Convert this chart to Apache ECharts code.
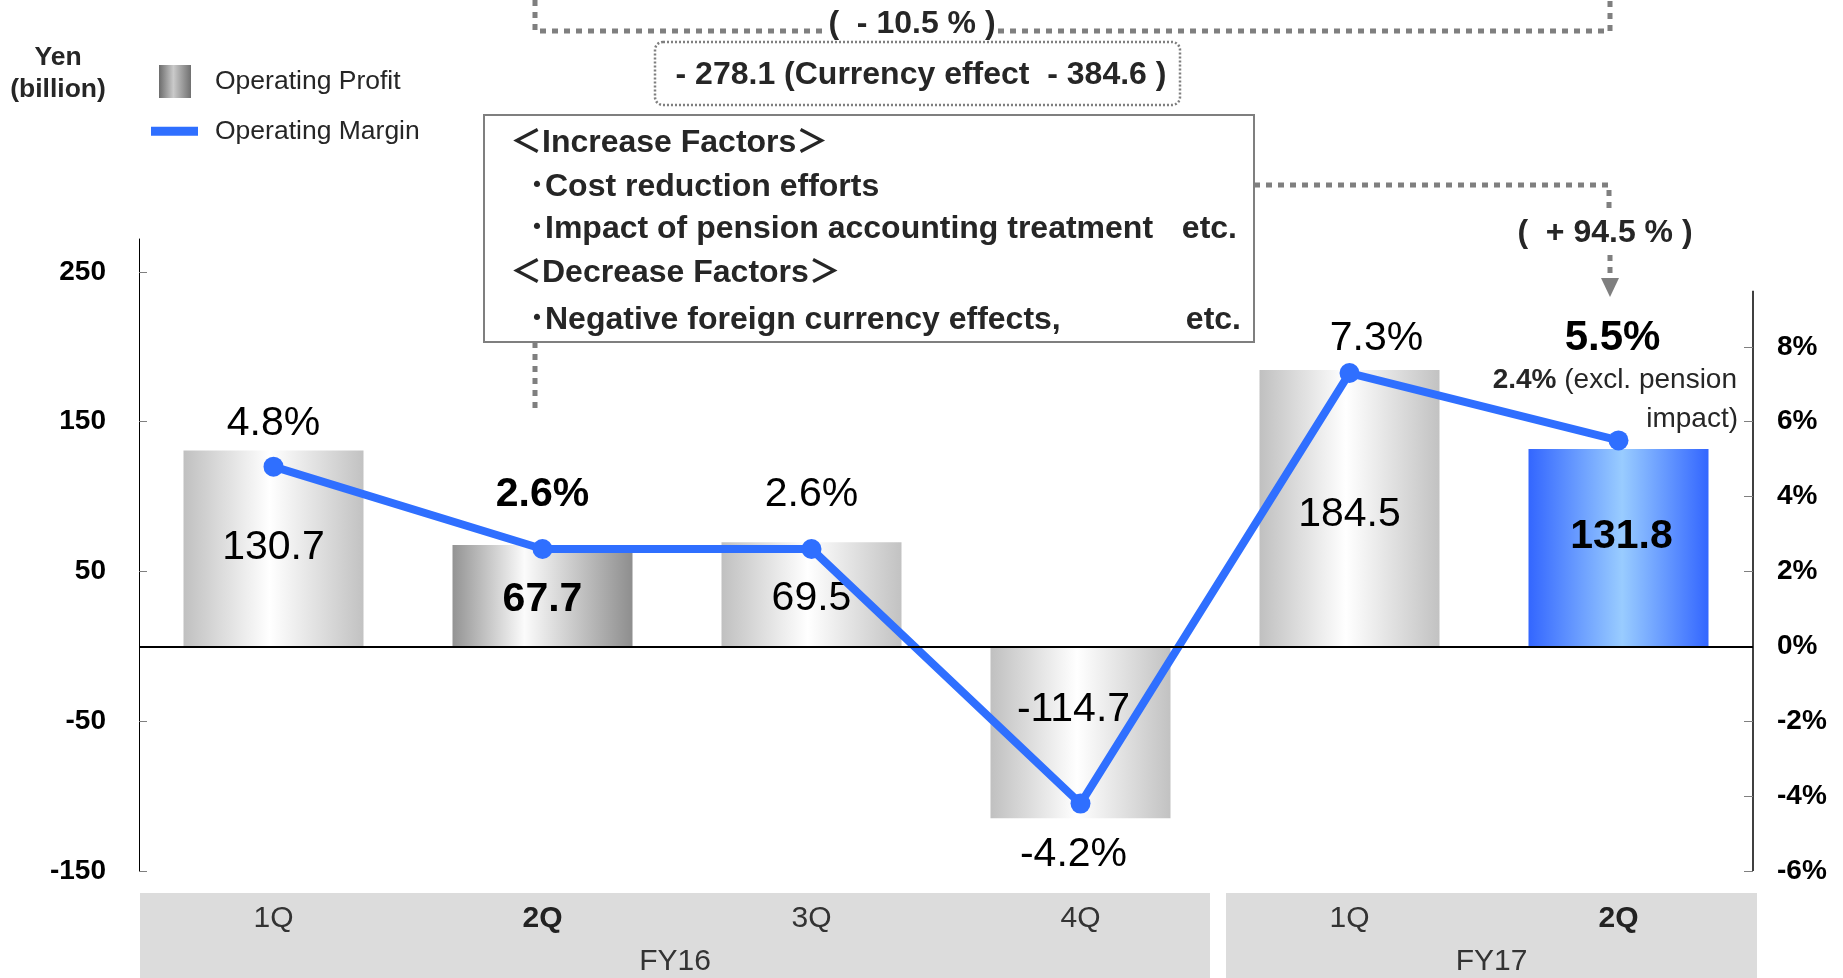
<!DOCTYPE html>
<html>
<head>
<meta charset="utf-8">
<script src="https://cdn.jsdelivr.net/npm/echarts@6/dist/echarts.min.js"></script>
<style>
html, body { margin: 0; padding: 0; background: #fff; }
#chart { width: 1843px; height: 978px; }
</style>
</head>
<body>
<div id="chart"></div>
<script>
// data
var quarters = ['FY16 1Q', 'FY16 2Q', 'FY16 3Q', 'FY16 4Q', 'FY17 1Q', 'FY17 2Q'];
var fiscalYears = ['FY16', 'FY17'];
var operatingProfit = [130.7, 67.7, 69.5, -114.7, 184.5, 131.8];
var operatingMargin = [4.8, 2.6, 2.6, -4.2, 7.3, 5.5];
var profitTicks = [-150, -50, 50, 150, 250];
var marginTicks = [-6, -4, -2, 0, 2, 4, 6, 8];
var boldQuarters = ['FY16 2Q', 'FY17 2Q'];

var FONT = 'Arial, "Liberation Sans", "Noto Sans CJK JP", sans-serif';
var BLUE = '#2f6fff';
var DOT = '#7f7f7f';

function grad(stops) {
	return {
		type: 'linear', x: 0, y: 0, x2: 1, y2: 0,
		colorStops: stops.map(function (s) { return { offset: s[0], color: s[1] }; })
	};
}

var barColors = {
	gray: grad([[0, '#c0c0c0'], [0.48, '#ffffff'], [1, '#c2c2c2']]),
	dark: grad([[0, '#939393'], [0.4, '#fbfbfb'], [1, '#8e8e8e']]),
	blue: grad([[0, '#3366ff'], [0.52, '#99ccff'], [1, '#3366ff']])
};
var legendIcon = grad([[0, '#6c6c6c'], [0.45, '#cacaca'], [1, '#707070']]);

// style per bar (not data)
var barLook = ['gray', 'dark', 'gray', 'gray', 'gray', 'blue'];
var barLabelOffset = [[0, -1], [0, 4], [0, 4], [-7, -23], [0, 6], [3, -11]];
var lineLabelLook = [
	{ position: 'top', distance: 12 },
	{ position: 'top', distance: 24 },
	{ position: 'top', distance: 24 },
	{ position: 'bottom', distance: 21, offset: [-7, 0] },
	{ position: 'top', distance: 4, offset: [27, 0] },
	{ position: 'top', distance: 71, offset: [-6, 0], fontSize: 42 }
];

function isBold(i) { return boldQuarters.indexOf(quarters[i]) >= 0; }

var barData = operatingProfit.map(function (v, i) {
	return {
		value: v,
		itemStyle: { color: barColors[barLook[i]] },
		label: {
			show: true,
			position: 'inside',
			offset: barLabelOffset[i],
			fontWeight: isBold(i) ? 'bold' : 'normal'
		}
	};
});

var lineData = operatingMargin.map(function (v, i) {
	var l = lineLabelLook[i];
	return {
		value: v,
		label: {
			show: true,
			position: l.position,
			distance: l.distance,
			offset: l.offset || [0, 0],
			fontSize: l.fontSize || 41,
			fontWeight: isBold(i) ? 'bold' : 'normal'
		}
	};
});

var chart = echarts.init(document.getElementById('chart'));

var option = {
	animation: false,
	backgroundColor: '#fff',
	textStyle: { fontFamily: FONT },
	legend: [
		{
			data: [{ name: 'Operating Profit', icon: 'rect', itemStyle: { color: legendIcon } }],
			left: 159, top: 65, padding: 0,
			itemWidth: 32, itemHeight: 33,
			selectedMode: false,
			textStyle: { fontSize: 26.5, color: '#262626', fontFamily: FONT, padding: [0, 0, 0, 19] }
		},
		{
			data: [{ name: 'Operating Margin', icon: 'rect' }],
			left: 151, top: 118, padding: 0,
			itemWidth: 47, itemHeight: 9,
			selectedMode: false,
			textStyle: { fontSize: 26.5, color: '#262626', fontFamily: FONT, padding: [0, 0, 0, 12] }
		}
	],
	grid: { left: 139, right: 90, top: 239, bottom: 107, containLabel: false, outerBoundsMode: 'none' },
	xAxis: {
		type: 'category',
		data: quarters,
		z: 10,
		axisLine: { show: false },
		axisTick: { show: false },
		axisLabel: {
			margin: 33,
			formatter: function (v, i) {
				var q = v.split(' ')[1];
				return boldQuarters.indexOf(v) >= 0 ? '{b|' + q + '}' : '{n|' + q + '}';
			},
			rich: {
				n: { fontSize: 30, color: '#333', fontFamily: FONT },
				b: { fontSize: 30, color: '#222', fontWeight: 'bold', fontFamily: FONT }
			}
		}
	},
	yAxis: [
		{
			type: 'value',
			min: -150, max: 272,
			position: 'left',
			splitLine: { show: false },
			axisLine: { show: true, lineStyle: { color: '#000', width: 1 } },
			axisTick: { show: true, inside: true, length: 8, customValues: profitTicks, lineStyle: { color: '#7f7f7f' } },
			axisLabel: { customValues: profitTicks, margin: 33, fontSize: 28, fontWeight: 'bold', color: '#000', fontFamily: FONT }
		},
		{
			type: 'value',
			min: -6, max: 10.88,
			position: 'right',
			splitLine: { show: false },
			axisLine: { show: false },
			axisTick: { show: true, inside: true, length: 9, customValues: marginTicks, lineStyle: { color: '#7f7f7f' } },
			axisLabel: { customValues: marginTicks, margin: 24, fontSize: 28, fontWeight: 'bold', color: '#000', fontFamily: FONT,
				formatter: function (v) { return v + '%'; } }
		}
	],
	series: [
		{
			name: 'Operating Profit',
			type: 'bar',
			z: 2,
			barWidth: 180,
			itemStyle: { color: barColors.gray },
			label: { fontSize: 41, color: '#000', fontFamily: FONT, formatter: function (p) { return p.value.toFixed(1); } },
			data: barData,
			markLine: {
				silent: true,
				symbol: ['none', 'none'],
				label: { show: false },
				lineStyle: { color: '#000', width: 2, type: 'solid' },
				data: [{ yAxis: 0 }]
			}
		},
		{
			name: 'Operating Margin',
			type: 'line',
			yAxisIndex: 1,
			z: 3,
			symbol: 'circle',
			symbolSize: 20,
			lineStyle: { color: BLUE, width: 8 },
			itemStyle: { color: BLUE },
			label: { color: '#000', fontFamily: FONT, formatter: function (p) { return p.value.toFixed(1) + '%'; } },
			data: lineData
		}
	]
};

chart.setOption(option);

// annotations
function txt(x, y, text, size, weight, align, extra) {
	var st = {
		text: text, fontSize: size, fontWeight: weight || 'normal', fontFamily: FONT,
		fill: '#262626', align: align || 'left', textAlign: align || 'left',
		verticalAlign: 'middle', textVerticalAlign: 'middle'
	};
	if (extra) for (var k in extra) st[k] = extra[k];
	return { type: 'text', x: x, y: y, style: st };
}
var dotted = { stroke: DOT, lineWidth: 5, lineDash: [6, 6], fill: null };

var elements = [
	txt(58, 74, 'Yen\n(billion)', 26.5, 'bold', 'center', { lineHeight: 32, fill: '#262626' }),

	{ type: 'polyline', shape: { points: [[535, 0], [535, 31], [826, 31]] }, style: dotted },
	{ type: 'polyline', shape: { points: [[998, 31], [1610, 31], [1610, 0]] }, style: dotted },
	txt(912, 24, '(  - 10.5 % )', 32, 'bold', 'center'),

	{ type: 'rect', shape: { x: 655, y: 42, width: 525, height: 63, r: 8 },
		style: { fill: null, stroke: DOT, lineWidth: 2.5, lineDash: [2, 2] } },
	txt(921, 75, '- 278.1 (Currency effect  - 384.6 )', 32, 'bold', 'center'),

	{ type: 'line', shape: { x1: 535, y1: 342, x2: 535, y2: 409 }, style: dotted },
	{ type: 'rect', shape: { x: 484, y: 115, width: 770, height: 227 },
		style: { fill: '#fff', stroke: DOT, lineWidth: 2 } },
	txt(510, 143, '＜Increase Factors＞', 32, 'bold'),
	txt(529, 187, '･Cost reduction efforts', 32, 'bold'),
	txt(529, 229, '･Impact of pension accounting treatment', 32, 'bold'),
	txt(1237, 229, 'etc.', 32, 'bold', 'right'),
	txt(510, 273, '＜Decrease Factors＞', 32, 'bold'),
	txt(529, 320, '･Negative foreign currency effects,', 32, 'bold'),
	txt(1241, 320, 'etc.', 32, 'bold', 'right'),

	{ type: 'polyline', shape: { points: [[1254, 185], [1609, 185], [1609, 212]] }, style: dotted },
	txt(1605, 233, '(  + 94.5 % )', 32, 'bold', 'center'),
	{ type: 'line', shape: { x1: 1610, y1: 255, x2: 1610, y2: 279 }, style: dotted },
	{ type: 'polygon', shape: { points: [[1601, 278], [1619, 278], [1610, 297]] }, style: { fill: DOT } },

	txt(1737, 380, '{b|2.4%} (excl. pension', 28, 'normal', 'right',
		{ fill: '#262626', rich: { b: { fontWeight: 'bold', fontSize: 28, fontFamily: FONT, fill: '#262626' } } }),
	txt(1738, 419, 'impact)', 28, 'normal', 'right')
];

// right axis line, from a bit under the top of the plot
var rx = chart.convertToPixel({ xAxisIndex: 0 }, quarters[quarters.length - 1]);
var band = rx - chart.convertToPixel({ xAxisIndex: 0 }, quarters[quarters.length - 2]);
var axisRight = rx + band / 2;
var yTop = chart.convertToPixel({ yAxisIndex: 1 }, 9.5);
var yBottom = chart.convertToPixel({ yAxisIndex: 0 }, -150);
elements.push({ type: 'line', shape: { x1: axisRight, y1: yTop, x2: axisRight, y2: yBottom },
	style: { stroke: '#000', lineWidth: 1.5 } });

// fiscal year bands under the quarters
fiscalYears.forEach(function (fy, g) {
	var idx = [];
	quarters.forEach(function (q, i) { if (q.indexOf(fy) === 0) idx.push(i); });
	var x0 = chart.convertToPixel({ xAxisIndex: 0 }, quarters[idx[0]]) - band / 2;
	var x1 = chart.convertToPixel({ xAxisIndex: 0 }, quarters[idx[idx.length - 1]]) + band / 2;
	if (g === 0) { x0 += 1; x1 -= 5; } else { x0 += 11; x1 += 4; }
	elements.push({ type: 'rect', z: -1, shape: { x: x0, y: yBottom + 22, width: x1 - x0, height: 978 - yBottom - 22 },
		style: { fill: '#dcdcdc' } });
	elements.push(txt((x0 + x1) / 2, 962, fy, 30, 'normal', 'center', { fill: '#333' }));
});

chart.setOption({ graphic: { elements: elements } });
</script>
</body>
</html>
